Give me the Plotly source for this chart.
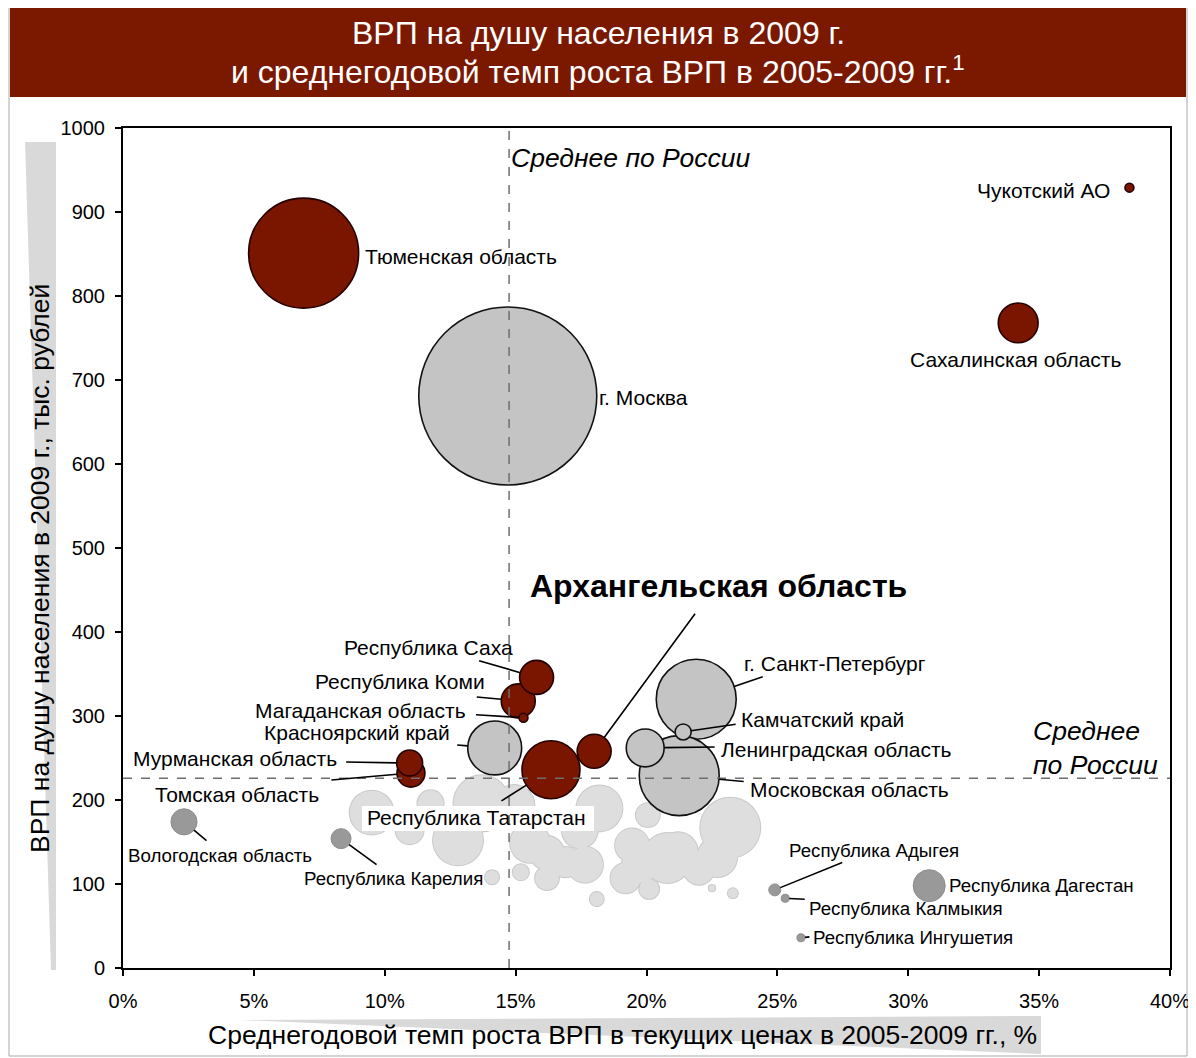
import numpy as np
import plotly.graph_objects as go

# ---- данные (рост ВРП 2005-2009, %; ВРП на душу 2009, тыс. руб.; ВРП, млрд руб.) ----
# выделенные регионы (тёмно-красные)
red_names = ['Тюменская область', 'Чукотский АО', 'Сахалинская область', 'Республика Коми',
             'Республика Саха', 'Магаданская область', 'Томская область', 'Мурманская область',
             'Республика Татарстан', 'Архангельская область']
red_growth = [6.9, 38.45, 34.2, 15.1, 15.8, 15.3, 11.0, 10.95, 16.35, 18.0]
red_grp_pc = [851, 929, 768, 318, 346, 298, 232, 244, 236, 258]
red_grp = [3200, 21, 420, 305, 305, 21, 207, 179, 890, 305]

# крупные регионы (серые с обводкой)
grey_names = ['г. Москва', 'г. Санкт-Петербург', 'Московская область', 'Ленинградская область',
              'Красноярский край', 'Камчатский край']
grey_growth = [14.7, 21.9, 21.25, 19.95, 14.2, 21.4]
grey_grp_pc = [681, 320, 229, 262, 262, 281]
grey_grp = [8376, 1690, 1690, 380, 770, 68]

# отстающие регионы (серые)
dark_names = ['Вологодская область', 'Республика Карелия', 'Республика Адыгея',
              'Республика Калмыкия', 'Республика Дагестан', 'Республика Ингушетия']
dark_growth = [2.33, 8.33, 24.9, 25.3, 30.8, 25.9]
dark_grp_pc = [174, 154, 93, 83, 98, 36]
dark_grp = [180, 106, 38, 17, 271, 17]

# прочие регионы (светлые, без подписей)
other_growth = [9.5, 11.75, 10.95, 13.7, 12.8, 15.55, 16.2, 16.9, 18.2, 20.05, 23.2, 22.7, 20.8, 19.45,
                19.2, 20.1, 18.1, 22.5, 23.3, 14.1, 15.2, 16.2, 21.2, 17.45, 14.95, 19.75, 17.65, 22.0]
other_grp_pc = [185, 196, 164, 196, 152, 149, 137, 126, 190, 182, 167, 132, 131, 146,
                107, 94, 82, 95, 89, 108, 114, 107, 138, 164, 194, 123, 123, 117]
other_grp = [510, 180, 207, 830, 660, 420, 305, 240, 560, 150, 950, 420, 660, 305,
             240, 105, 52, 10, 26, 52, 68, 150, 420, 342, 423, 342, 342, 238]

avg_growth = 14.75   # среднее по России
avg_grp_pc = 226

# ---- оформление ----
OFF = 8                       # отступ body у страницы
W, H = 1196 - OFF, 1058 - OFF
L, R, T, B = 123, 1170, 128, 968   # область графика в координатах страницы
FONT = 'Arial, Liberation Sans, sans-serif'
DIAM_SCALE = 178 / np.sqrt(max(grey_grp))   # диаметр пузыря ~ sqrt(ВРП)


def px(xp):
    return (xp - L) / (R - L)


def py(yp):
    return (B - yp) / (B - T)


def diam(v):
    return np.sqrt(np.array(v, dtype=float)) * DIAM_SCALE


fig = go.Figure()

# светлые пузыри: сначала контур, потом заливка — чтобы они сливались
fig.add_trace(go.Scatter(x=other_growth, y=other_grp_pc, mode='markers', hoverinfo='skip',
                         marker=dict(size=diam(other_grp) + 2, color='#c9c9c9', line_width=0, opacity=1)))
fig.add_trace(go.Scatter(x=other_growth, y=other_grp_pc, mode='markers',
                         marker=dict(size=diam(other_grp), color='#dedede', line_width=0, opacity=1)))

fig.add_trace(go.Scatter(x=dark_growth, y=dark_grp_pc, mode='markers', text=dark_names,
                         marker=dict(size=diam(dark_grp), color='#999999', line=dict(color='#8c8c8c', width=1), opacity=1)))
fig.add_trace(go.Scatter(x=grey_growth, y=grey_grp_pc, mode='markers', text=grey_names,
                         marker=dict(size=diam(grey_grp), color='#c4c4c4', line=dict(color='#111111', width=1.6), opacity=1)))
fig.add_trace(go.Scatter(x=red_growth, y=red_grp_pc, mode='markers', text=red_names,
                         marker=dict(size=diam(red_grp), color='#7a1600', line=dict(color='#220000', width=1.6), opacity=1)))

# подписи: (xanchor, xshift, yshift, размер шрифта)
BIG, SMALL = 21, 18.7
labels = {
    'Тюменская область': ('left', 59, -3, BIG),
    'г. Москва': ('left', 89, -2, BIG),
    'Чукотский АО': ('right', -17, -3, BIG),
    'Сахалинская область': ('center', -3, -37, BIG),
    'Республика Саха': ('right', -22, 30, BIG),
    'Республика Коми': ('right', -31, 19, BIG),
    'Магаданская область': ('right', -55, 7, BIG),
    'Красноярский край': ('right', -43, 15, BIG),
    'Мурманская область': ('right', -71, 5, BIG),
    'Томская область': ('right', -90, -21, BIG),
    'Республика Татарстан': ('center', -74, -48, BIG),
    'г. Санкт-Петербург': ('left', 46, 36, BIG),
    'Камчатский край': ('left', 56, 12, BIG),
    'Ленинградская область': ('left', 74, -2, BIG),
    'Московская область': ('left', 69, -14, BIG),
    'Вологодская область': ('left', -58, -34, SMALL),
    'Республика Карелия': ('left', -39, -40, SMALL),
    'Республика Адыгея': ('left', 12, 39, SMALL),
    'Республика Дагестан': ('left', 18, 0, SMALL),
    'Республика Калмыкия': ('left', 22, -10, SMALL),
    'Республика Ингушетия': ('left', 10, 0, SMALL),
}
# выноски: смещение хвоста от центра пузыря, px
leaders = {
    'Республика Саха': (-59, -17), 'Республика Коми': (-43, -4), 'Магаданская область': (-49, -3),
    'Красноярский край': (-39, -3), 'Мурманская область': (-65, -1), 'Томская область': (-81, 7),
    'Республика Татарстан': (-51, 32), 'Архангельская область': (102, -139),
    'г. Санкт-Петербург': (68, -23), 'Камчатский край': (54, -8), 'Ленинградская область': (71, -1),
    'Московская область': (66, 6), 'Вологодская область': (24, 20), 'Республика Карелия': (37, 27),
    'Республика Адыгея': (69, -28), 'Республика Калмыкия': (21, 1), 'Республика Ингушетия': (10, -1),
}

annotations = []
for names, xs, ys, grp in [(red_names, red_growth, red_grp_pc, red_grp),
                           (grey_names, grey_growth, grey_grp_pc, grey_grp),
                           (dark_names, dark_growth, dark_grp_pc, dark_grp)]:
    for n, x, y, d in zip(names, xs, ys, diam(grp)):
        if n in leaders:
            ax, ay = leaders[n]
            annotations.append(dict(x=x, y=y, text='', showarrow=True, ax=ax, ay=ay, arrowhead=0,
                                    arrowwidth=1.6, arrowcolor='black', standoff=d / 2))
        if n in labels:
            xa, xs_, ys_, fs = labels[n]
            annotations.append(dict(x=x, y=y, text=n, showarrow=False, xanchor=xa, yanchor='middle',
                                    xshift=xs_, yshift=ys_, font=dict(size=fs, color='black', family=FONT)))
        if n == 'Архангельская область':
            annotations.append(dict(x=x, y=y, text='<b>Архангельская область</b>', showarrow=False,
                                    xanchor='center', yanchor='middle', xshift=124, yshift=165,
                                    font=dict(size=32, color='black', family=FONT)))

annotations += [
    dict(x=avg_growth, y=1000, text='<i>Среднее по России</i>', showarrow=False, xanchor='left',
         yanchor='middle', xshift=0, yshift=-30, font=dict(size=26.5, color='black', family=FONT)),
    dict(x=40, y=avg_grp_pc, text='<i>Среднее<br>по России</i>', showarrow=False, xanchor='right',
         yanchor='bottom', align='left', xshift=-10, yshift=-4, font=dict(size=26.5, color='black', family=FONT)),
    dict(xref='paper', yref='paper', x=px(40), y=py(569), xanchor='center', yanchor='middle',
         text='ВРП на душу населения в 2009 г., тыс. рублей',
         textangle=-90, showarrow=False, font=dict(size=26.5, color='black', family=FONT)),
    dict(xref='paper', yref='paper', x=px(622), y=py(1035), xanchor='center', yanchor='middle',
         text='Среднегодовой темп роста ВРП в текущих ценах в 2005-2009 гг., %',
         showarrow=False, font=dict(size=26.5, color='black', family=FONT)),
    dict(xref='paper', yref='paper', x=px(598), y=py(33), xanchor='center', yanchor='middle',
         text='ВРП на душу населения в 2009 г.',
         showarrow=False, font=dict(size=32, color='white', family=FONT)),
    dict(xref='paper', yref='paper', x=px(598), y=py(70), xanchor='center', yanchor='middle',
         text='и среднегодовой темп роста ВРП в 2005-2009 гг.<sup>1</sup>',
         showarrow=False, font=dict(size=32, color='white', family=FONT)),
]

shapes = [
    # рамка и плашка заголовка
    dict(type='rect', xref='paper', yref='paper', x0=px(9), x1=px(1187), y0=py(2), y1=py(1056),
         line=dict(color='#a8a8a8', width=1), layer='below'),
    dict(type='rect', xref='paper', yref='paper', x0=px(10), x1=px(1186), y0=py(2), y1=py(97),
         fillcolor='#7a1800', line_width=0, layer='below'),
    # серые клинья под подписями осей
    dict(type='path', xref='paper', yref='paper', layer='below', fillcolor='#d9d9d9', line_width=0,
         path=f'M {px(25)},{py(142)} L {px(56)},{py(142)} L {px(56)},{py(970)} L {px(51)},{py(970)} Z'),
    dict(type='path', xref='paper', yref='paper', layer='below', fillcolor='#d9d9d9', line_width=0,
         path=f'M {px(240)},{py(1020)} L {px(1041)},{py(1016)} L {px(1041)},{py(1054)} Z'),
    # белая подложка под подпись Татарстана
    dict(type='rect', xref='paper', yref='paper', x0=px(362), x1=px(594), y0=py(806), y1=py(831),
         fillcolor='white', line_width=0, layer='above'),
    # средние по России
    dict(type='line', xref='x', yref='paper', x0=avg_growth, x1=avg_growth, y0=0, y1=1,
         line=dict(color='#6e6e6e', width=1.5, dash='dash'), layer='above'),
    dict(type='line', xref='paper', yref='y', x0=0, x1=1, y0=avg_grp_pc, y1=avg_grp_pc,
         line=dict(color='#6e6e6e', width=1.5, dash='dash'), layer='above'),
]

fig.update_layout(
    width=W, height=H,
    margin=dict(l=L - OFF, r=W - (R - OFF), t=T - OFF, b=H - (B - OFF), autoexpand=False),
    paper_bgcolor='white', plot_bgcolor='white',
    showlegend=False,
    font=dict(family=FONT, color='black'),
    annotations=annotations,
    shapes=shapes,
    xaxis=dict(range=[0, 40], dtick=5, ticksuffix='%', showgrid=False, zeroline=False, automargin=False,
               showline=True, mirror=True, linecolor='black', linewidth=2,
               ticks='outside', ticklen=6, tickwidth=1.5, tickcolor='black',
               ticklabelstandoff=8, tickfont=dict(size=20, color='black')),
    yaxis=dict(range=[0, 1000], dtick=100, showgrid=False, zeroline=False, automargin=False,
               showline=True, mirror=True, linecolor='black', linewidth=2,
               ticks='outside', ticklen=6, tickwidth=1.5, tickcolor='black',
               ticklabelstandoff=6, tickfont=dict(size=20, color='black')),
)

fig.write_html('out.html')
